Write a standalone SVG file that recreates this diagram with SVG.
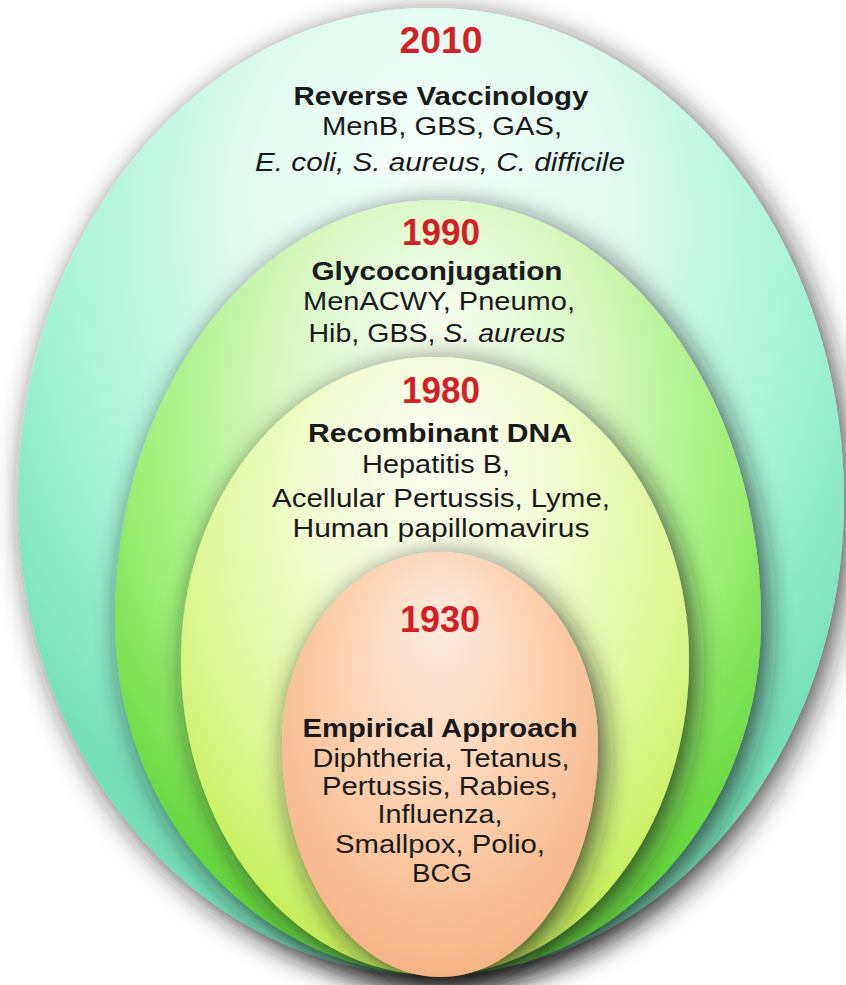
<svg xmlns="http://www.w3.org/2000/svg" width="846" height="985" viewBox="0 0 846 985">
<style>
.yr{font-family:"Liberation Sans",Arial,sans-serif;font-weight:bold;font-size:36px;fill:#d31f26;text-anchor:middle}
.hd{font-family:"Liberation Sans",Arial,sans-serif;font-weight:bold;font-size:26px;fill:#1a1a1a;text-anchor:middle}
.tx{font-family:"Liberation Sans",Arial,sans-serif;font-size:26px;fill:#1a1a1a;text-anchor:middle}
.it{font-style:italic}
</style>
<defs>
<filter id="sh" x="-25%" y="-25%" width="150%" height="150%">
<feDropShadow dx="6" dy="7" stdDeviation="14" flood-color="#1a1a1a" flood-opacity="0.75"/>
</filter>
<radialGradient id="g2010" cx="0.5" cy="0.3" r="0.62" fx="0.5" fy="0.14">
<stop offset="0" stop-color="#f7fffb"/>
<stop offset="0.4" stop-color="#dcfaee"/>
<stop offset="0.75" stop-color="#a2f3d6"/>
<stop offset="1" stop-color="#76e0b9"/>
</radialGradient>
<radialGradient id="g1990" cx="0.5" cy="0.35" r="0.62" fx="0.5" fy="0.14">
<stop offset="0" stop-color="#f6fcf0"/>
<stop offset="0.4" stop-color="#d8f8c2"/>
<stop offset="0.75" stop-color="#9ef076"/>
<stop offset="1" stop-color="#66d83e"/>
</radialGradient>
<radialGradient id="g1980" cx="0.5" cy="0.35" r="0.62" fx="0.5" fy="0.12">
<stop offset="0" stop-color="#fdfef3"/>
<stop offset="0.4" stop-color="#f2fbd2"/>
<stop offset="0.75" stop-color="#e0f898"/>
<stop offset="1" stop-color="#c9ef5e"/>
</radialGradient>
<radialGradient id="g1930" cx="0.5" cy="0.4" r="0.62" fx="0.5" fy="0.15">
<stop offset="0" stop-color="#fdebdd"/>
<stop offset="0.45" stop-color="#fcd6b8"/>
<stop offset="1" stop-color="#f6b283"/>
</radialGradient>
</defs>

<g id="era-2010">
<path filter="url(#sh)" fill="url(#g2010)" d="M431,8 C659.1,8 844,228.3 844,500 C844,762.3 659.1,975 431,975 C202.9,975 18,762.3 18,500 C18,228.3 202.9,8 431,8 Z"/>
<text class="yr" x="441" y="53" textLength="83" lengthAdjust="spacingAndGlyphs">2010</text>
<text class="hd" x="441" y="105" textLength="295" lengthAdjust="spacingAndGlyphs">Reverse Vaccinology</text>
<text class="tx" x="442" y="135" textLength="240" lengthAdjust="spacingAndGlyphs">MenB, GBS, GAS,</text>
<text class="tx it" x="440" y="171" textLength="370" lengthAdjust="spacingAndGlyphs">E. coli, S. aureus, C. difficile</text>
</g>

<g id="era-1990">
<path filter="url(#sh)" fill="url(#g1990)" d="M438,200 C616.4,200 761,388 761,620 C761,816.1 616.4,975 438,975 C259.6,975 115,816.1 115,620 C115,388 259.6,200 438,200 Z"/>
<text class="yr" x="441" y="245" textLength="78" lengthAdjust="spacingAndGlyphs">1990</text>
<text class="hd" x="437" y="280" textLength="251" lengthAdjust="spacingAndGlyphs">Glycoconjugation</text>
<text class="tx" x="439" y="310" textLength="272" lengthAdjust="spacingAndGlyphs">MenACWY, Pneumo,</text>
<text class="tx" x="437" y="342" textLength="257" lengthAdjust="spacingAndGlyphs">Hib, GBS, <tspan class="it">S. aureus</tspan></text>
</g>

<g id="era-1980">
<path filter="url(#sh)" fill="url(#g1980)" d="M435,357 C575.3,357 689,492.7 689,660 C689,834 575.3,975 435,975 C294.7,975 181,834 181,660 C181,492.7 294.7,357 435,357 Z"/>
<text class="yr" x="441" y="403" textLength="78" lengthAdjust="spacingAndGlyphs">1980</text>
<text class="hd" x="440" y="442" textLength="264" lengthAdjust="spacingAndGlyphs">Recombinant DNA</text>
<text class="tx" x="436" y="473" textLength="148" lengthAdjust="spacingAndGlyphs">Hepatitis B,</text>
<text class="tx" x="441" y="507" textLength="338" lengthAdjust="spacingAndGlyphs">Acellular Pertussis, Lyme,</text>
<text class="tx" x="441" y="537" textLength="297" lengthAdjust="spacingAndGlyphs">Human papillomavirus</text>
</g>

<g id="era-1930">
<path filter="url(#sh)" fill="url(#g1930)" d="M440,552 C527.3,552 598,638.4 598,745 C598,873.1 527.3,977 440,977 C352.7,977 282,873.1 282,745 C282,638.4 352.7,552 440,552 Z"/>
<text class="yr" x="440" y="632" textLength="80" lengthAdjust="spacingAndGlyphs">1930</text>
<text class="hd" x="440" y="737" textLength="275" lengthAdjust="spacingAndGlyphs">Empirical Approach</text>
<text class="tx" x="441" y="767" textLength="257" lengthAdjust="spacingAndGlyphs">Diphtheria, Tetanus,</text>
<text class="tx" x="440" y="795" textLength="236" lengthAdjust="spacingAndGlyphs">Pertussis, Rabies,</text>
<text class="tx" x="440" y="823" textLength="125" lengthAdjust="spacingAndGlyphs">Influenza,</text>
<text class="tx" x="440" y="853" textLength="210" lengthAdjust="spacingAndGlyphs">Smallpox, Polio,</text>
<text class="tx" x="442" y="882" textLength="60" lengthAdjust="spacingAndGlyphs">BCG</text>
</g>
</svg>
